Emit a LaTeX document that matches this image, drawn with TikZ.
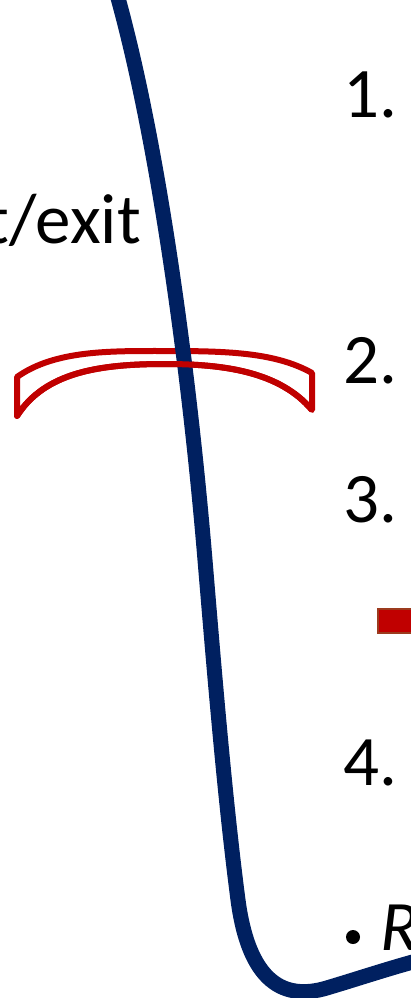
\documentclass[tikz,border=0pt]{standalone}
\usepackage{fontspec}
\setmainfont{Carlito}
\usepackage{xcolor}

\definecolor{cordblue}{HTML}{002060}
\definecolor{ringred}{HTML}{C00000}
\definecolor{boxedge}{HTML}{9C3B1E}

\begin{document}
\begin{tikzpicture}[
  x=1pt,y=-1pt,
  steptext/.style={inner sep=0pt,anchor=base west,font=\fontsize{71}{80}\selectfont},
  sidetext/.style={inner sep=0pt,anchor=base east,font=\fontsize{71}{80}\selectfont},
  ring/.style={draw=ringred,line width=6pt,line join=round},
  cord/.style={draw=cordblue,line width=15pt}
]
  \useasboundingbox (0,0) rectangle (411,998);
  \clip (0,0) rectangle (411,998);
  % text
  \node[sidetext] (exit) at (141,243) {t/exit};
  \node[steptext] (s1) at (343,117) {1.};
  \node[steptext] (s2) at (343,383) {2.};
  \node[steptext] (s3) at (343,522) {3.};
  \node[steptext] (s4) at (343,785) {4.};
  \node[steptext,font=\fontsize{71}{80}\selectfont\itshape] (r) at (380,950) {R};
  \fill[black] (353,937) circle (7);
  \draw[fill=ringred,draw=boxedge,line width=1.5pt] (378,609) rectangle (420,633);
  % ring around the cord
  \draw[ring] (17,377) .. controls (55,350) and (110,351) .. (165,351)
    .. controls (225,351) and (275,352) .. (312,373) -- (312,410)
    .. controls (280,372) and (225,364) .. (165,364)
    .. controls (100,364) and (45,372) .. (17,416) -- cycle;
  % cord
  \draw[cord] (118,-2) .. controls (160,150) and (190,380) .. (205,560)
    .. controls (215,680) and (225,800) .. (238,900)
    .. controls (250,990) and (290,1000) .. (330,987)
    .. controls (360,978) and (390,968) .. (420,960);
  % front part of the ring
  \draw[ring] (312,410) .. controls (280,372) and (225,364) .. (165,364)
    .. controls (100,364) and (45,372) .. (17,416);
\end{tikzpicture}
\end{document}
